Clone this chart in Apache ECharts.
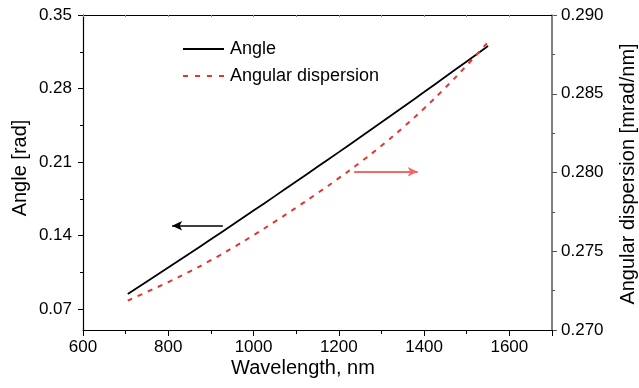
<!DOCTYPE html>
<html>
<head>
<meta charset="utf-8">
<script src="https://cdn.jsdelivr.net/npm/echarts@6/dist/echarts.min.js"></script>
<style>
html,body{margin:0;padding:0;background:#fff;}
#c{width:639px;height:388px;}
</style>
</head>
<body>
<div id="c"></div>
<script>
// ---- data ----
const wavelengths = [705, 750, 800, 850, 900, 950, 1000, 1050, 1100, 1150, 1200, 1250, 1300, 1350, 1400, 1450, 1500, 1550];
const angle = [0.0843, 0.0962, 0.1095, 0.1229, 0.1364, 0.1500, 0.1637, 0.1775, 0.1914, 0.2054, 0.2194, 0.2336, 0.2478, 0.2622, 0.2766, 0.2912, 0.3058, 0.3205];
const dispersion = [0.27186, 0.27242, 0.27304, 0.27371, 0.27443, 0.27520, 0.27602, 0.27688, 0.27777, 0.27869, 0.27964, 0.28064, 0.28170, 0.28284, 0.28407, 0.28539, 0.28680, 0.28828];
const leftTicks = [0.07, 0.14, 0.21, 0.28, 0.35];
const leftMinorTicks = [0.105, 0.175, 0.245, 0.315];
const seriesNames = ['Angle', 'Angular dispersion'];
const xTitle = 'Wavelength, nm';
const yLeftTitle = 'Angle [rad]';
const yRightTitle = 'Angular dispersion [mrad/nm]';
// arrows (data coordinates)
const blackArrow = {from: [928, 0.1493], to: [809, 0.1493]};
const redArrow = {from: [1236, 0.28005], to: [1385, 0.28005]};

const FONT = '"Liberation Sans", Arial, sans-serif';
const RED = '#e8322c';
const chart = echarts.init(document.getElementById('c'), null, {renderer: 'canvas'});

const angleData = wavelengths.map((w, i) => [w, angle[i]]);
const dispData = wavelengths.map((w, i) => [w, dispersion[i]]);

const option = {
  animation: false,
  backgroundColor: '#fff',
  grid: {left: 83, right: 87, top: 15, bottom: 58, containLabel: false},
  legend: {show: false},
  xAxis: [{
    type: 'value', min: 600, max: 1700, interval: 200, position: 'bottom',
    axisLine: {show: true, onZero: false, lineStyle: {color: '#000', width: 1.2}},
    axisTick: {show: true, inside: false, length: 6, lineStyle: {color: '#000'}},
    minorTick: {show: true, splitNumber: 2, length: 4, lineStyle: {color: '#000'}},
    splitLine: {show: false},
    axisLabel: {margin: 9, fontFamily: FONT, fontSize: 17, color: '#000', showMaxLabel: false,
      formatter: v => (v >= 1700 ? '' : String(v))}
  }, {
    type: 'value', min: 600, max: 1700, interval: 100, position: 'top',
    axisLine: {show: true, onZero: false, lineStyle: {color: '#000', width: 1.2}},
    axisTick: {show: true, inside: true, length: 2, lineStyle: {color: '#888'}},
    splitLine: {show: false},
    axisLabel: {show: false}
  }],
  yAxis: [{
    type: 'value', min: 0.05, max: 0.35, position: 'left',
    axisLine: {show: true, onZero: false, lineStyle: {color: '#000', width: 1.2}},
    axisTick: {show: true, inside: false, length: 5, customValues: leftTicks, lineStyle: {color: '#000'}},
    splitLine: {show: false},
    axisLabel: {margin: 11, customValues: leftTicks, fontFamily: FONT, fontSize: 17, color: '#000',
      formatter: v => v.toFixed(2)}
  }, {
    type: 'value', min: 0.27, max: 0.29, interval: 0.005, position: 'right',
    axisLine: {show: true, onZero: false, lineStyle: {color: '#555', width: 1.5}},
    axisTick: {show: true, inside: false, length: 5, lineStyle: {color: '#555'}},
    minorTick: {show: true, splitNumber: 2, length: 3, lineStyle: {color: '#555'}},
    splitLine: {show: false},
    axisLabel: {margin: 9, fontFamily: FONT, fontSize: 17, color: '#000',
      formatter: v => v.toFixed(3)}
  }, {
    type: 'value', min: 0.05, max: 0.35, position: 'left',
    axisLine: {show: false},
    axisTick: {show: true, inside: false, length: 3, customValues: leftMinorTicks, lineStyle: {color: '#000'}},
    splitLine: {show: false},
    axisLabel: {show: false}
  }],
  series: [{
    name: seriesNames[0], type: 'line', xAxisIndex: 0, yAxisIndex: 0,
    data: angleData, symbol: 'none', smooth: true,
    lineStyle: {color: '#000', width: 1.8},
    itemStyle: {color: '#000'},
    markLine: {
      silent: true, animation: false,
      symbol: ['none', 'arrow'], symbolSize: [7, 10],
      label: {show: false},
      lineStyle: {color: '#000', width: 1.5, type: 'solid'},
      data: [[{coord: blackArrow.from}, {coord: blackArrow.to}]]
    }
  }, {
    name: seriesNames[1], type: 'line', xAxisIndex: 0, yAxisIndex: 1,
    data: dispData, symbol: 'none', smooth: true,
    lineStyle: {color: RED, width: 2, type: [5, 6]},
    itemStyle: {color: RED},
    markLine: {
      silent: true, animation: false,
      symbol: ['none', 'arrow'], symbolSize: [7, 10],
      label: {show: false},
      lineStyle: {color: '#ee6a66', width: 1.8, type: 'solid'},
      data: [[{coord: redArrow.from}, {coord: redArrow.to}]]
    }
  }],
  graphic: [{
    type: 'line', shape: {x1: 183, y1: 49, x2: 224, y2: 49},
    style: {stroke: '#000', lineWidth: 1.8}
  }, {
    type: 'text', x: 230, y: 49,
    style: {text: seriesNames[0], font: '18px ' + FONT, fill: '#000', textAlign: 'left', textVerticalAlign: 'middle'}
  }, {
    type: 'line', shape: {x1: 183, y1: 76, x2: 224, y2: 76},
    style: {stroke: RED, lineWidth: 2, lineDash: [5, 7]}
  }, {
    type: 'text', x: 230, y: 76,
    style: {text: seriesNames[1], font: '18px ' + FONT, fill: '#000', textAlign: 'left', textVerticalAlign: 'middle'}
  }, {
    type: 'text', x: 303, y: 368,
    style: {text: xTitle, font: '20px ' + FONT, fill: '#000', textAlign: 'center', textVerticalAlign: 'middle'}
  }, {
    type: 'text', x: 20, y: 168, rotation: Math.PI / 2,
    style: {text: yLeftTitle, font: '20px ' + FONT, fill: '#000', textAlign: 'center', textVerticalAlign: 'middle'}
  }, {
    type: 'text', x: 628, y: 174, rotation: Math.PI / 2,
    style: {text: yRightTitle, font: '20px ' + FONT, fill: '#000', textAlign: 'center', textVerticalAlign: 'middle'}
  }]
};
chart.setOption(option);
</script>
</body>
</html>
